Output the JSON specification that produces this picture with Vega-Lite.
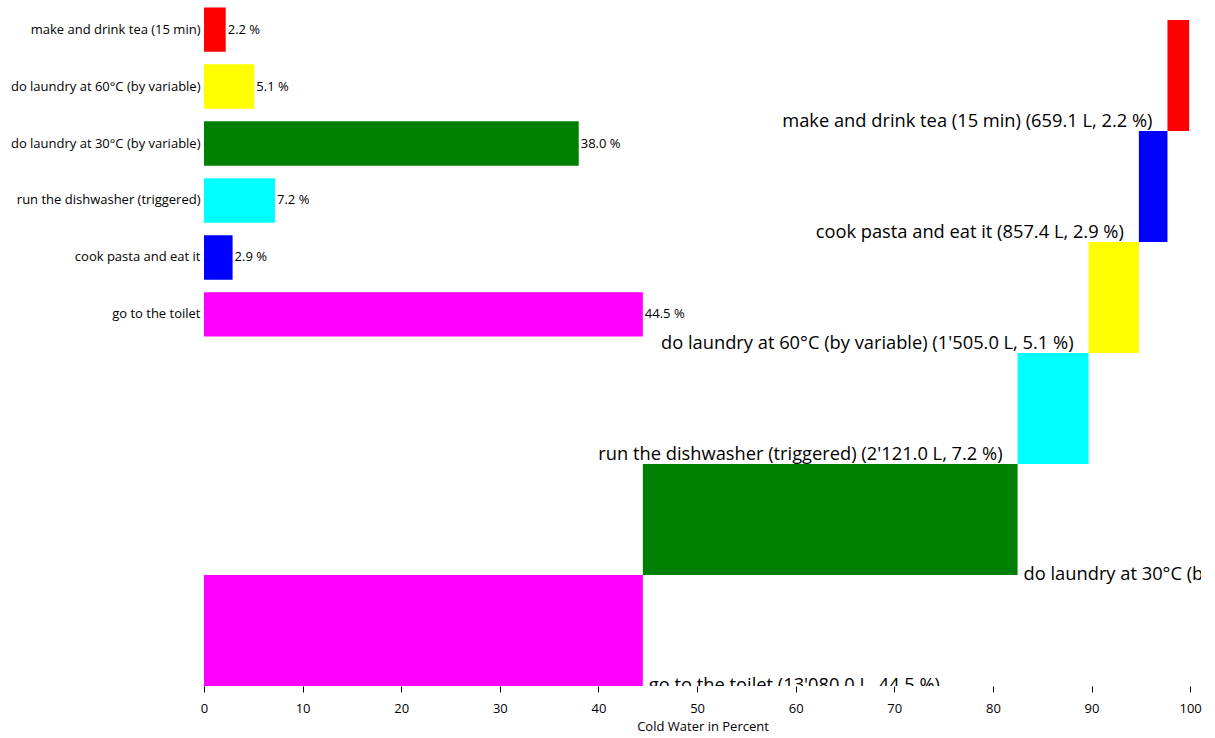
{
  "$schema": "https://vega.github.io/schema/vega-lite/v6.json",
  "width": 997,
  "height": 686,
  "autosize": {"type": "none"},
  "padding": {"left": 204, "top": 0, "right": 14, "bottom": 52},
  "config": {
    "view": {"stroke": null},
    "font": "Open Sans"
  },
  "data": {
    "values": [
      {"activity": "make and drink tea (15 min)", "liters": 659.1, "pct": 2.2},
      {"activity": "do laundry at 60°C (by variable)", "liters": 1505.0, "pct": 5.1},
      {"activity": "do laundry at 30°C (by variable)", "liters": 11170.0, "pct": 38.0},
      {"activity": "run the dishwasher (triggered)", "liters": 2121.0, "pct": 7.2},
      {"activity": "cook pasta and eat it", "liters": 857.4, "pct": 2.9},
      {"activity": "go to the toilet", "liters": 13080.0, "pct": 44.5}
    ]
  },
  "resolve": {"scale": {"y": "independent"}},
  "layer": [
    {
      "transform": [
        {"window": [{"op": "sum", "field": "pct", "as": "end"}], "sort": [{"field": "pct", "order": "descending"}]},
        {"calculate": "datum.end - datum.pct", "as": "start"},
        {"calculate": "datum.activity + ' (' + replace(format(datum.liters, ',.1f'), ',', \"'\") + ' L, ' + format(datum.pct, '.1f') + ' %)'", "as": "label"}
      ],
      "encoding": {
        "y": {
          "field": "activity",
          "type": "nominal",
          "sort": null,
          "scale": {
            "domain": ["make and drink tea (15 min)", "cook pasta and eat it", "do laundry at 60°C (by variable)", "run the dishwasher (triggered)", "do laundry at 30°C (by variable)", "go to the toilet"],
            "paddingInner": 0, "paddingOuter": 0.09, "align": 1
          },
          "axis": null
        }
      },
      "layer": [
        {
          "mark": {"type": "bar"},
          "encoding": {
            "x": {
              "field": "start",
              "type": "quantitative",
              "scale": {"domain": [0, 101.1], "nice": false, "zero": true},
              "axis": {
                "values": [0, 10, 20, 30, 40, 50, 60, 70, 80, 90, 100],
                "title": "Cold Water in Percent",
                "domain": false,
                "grid": false,
                "labelFlush": false,
                "tickColor": "#000",
                "tickSize": 6,
                "labelFontSize": 13,
                "labelColor": "#000",
                "labelPadding": 10,
                "titleFontSize": 13,
                "titleFontWeight": "normal",
                "titleColor": "#000",
                "titlePadding": 5
              }
            },
            "x2": {"field": "end"},
            "color": {
              "field": "activity",
              "type": "nominal",
              "legend": null,
              "scale": {
                "domain": ["make and drink tea (15 min)", "do laundry at 60°C (by variable)", "do laundry at 30°C (by variable)", "run the dishwasher (triggered)", "cook pasta and eat it", "go to the toilet"],
                "range": ["#ff0000", "#ffff00", "#008000", "#00ffff", "#0000ff", "#ff00ff"]
              }
            }
          }
        },
        {
          "transform": [{"filter": "datum.start > 50"}],
          "mark": {"type": "text", "align": "right", "baseline": "bottom", "dx": -15, "fontSize": 18.3, "color": "#000"},
          "encoding": {
            "x": {"field": "start", "type": "quantitative"},
            "y": {"field": "activity", "type": "nominal", "sort": null, "bandPosition": 1},
            "text": {"field": "label"}
          }
        },
        {
          "transform": [{"filter": "datum.start <= 50"}],
          "mark": {"type": "text", "align": "left", "baseline": "middle", "dx": 6, "fontSize": 18.3, "color": "#000", "clip": true},
          "encoding": {
            "x": {"field": "end", "type": "quantitative"},
            "y": {"field": "activity", "type": "nominal", "sort": null, "bandPosition": 1},
            "text": {"field": "label"}
          }
        }
      ]
    },
    {
      "transform": [
        {"calculate": "format(datum.pct, '.1f') + ' %'", "as": "pctLabel"}
      ],
      "encoding": {
        "y": {
          "field": "activity",
          "type": "nominal",
          "sort": null,
          "scale": {"range": [0, 344], "paddingInner": 0.22, "paddingOuter": 0.13},
          "axis": {
            "title": null,
            "domain": false,
            "ticks": false,
            "tickSize": 0,
            "labelPadding": 4,
            "labelFontSize": 13,
            "labelColor": "#000",
            "labelLimit": 400
          }
        },
        "x": {"field": "pct", "type": "quantitative"}
      },
      "layer": [
        {
          "mark": {"type": "bar"},
          "encoding": {
            "color": {"field": "activity", "type": "nominal", "legend": null}
          }
        },
        {
          "mark": {"type": "text", "align": "left", "baseline": "middle", "dx": 2, "fontSize": 13, "color": "#000"},
          "encoding": {
            "text": {"field": "pctLabel"}
          }
        }
      ]
    }
  ]
}
